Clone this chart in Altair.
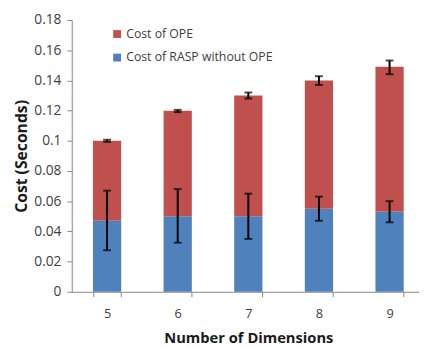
import altair as alt
import pandas as pd

dims = ["5", "6", "7", "8", "9"]
rasp = [0.047, 0.050, 0.050, 0.055, 0.053]
total = [0.100, 0.120, 0.130, 0.140, 0.149]
rasp_lo = [0.0275, 0.0325, 0.035, 0.047, 0.046]
rasp_hi = [0.067, 0.068, 0.065, 0.063, 0.060]
total_lo = [0.0993, 0.1190, 0.1280, 0.1370, 0.1441]
total_hi = [0.1007, 0.1205, 0.1320, 0.1428, 0.1532]
y_ticks = [0, 0.02, 0.04, 0.06, 0.08, 0.1, 0.12, 0.14, 0.16, 0.18]
series = ["Cost of OPE", "Cost of RASP without OPE"]
colors = ["#C0504D", "#4F81BD"]

rows = []
for d, r, t in zip(dims, rasp, total):
    rows.append({"dim": d, "series": series[1], "y0": 0.0, "y1": r})
    rows.append({"dim": d, "series": series[0], "y0": r, "y1": t})
bars_df = pd.DataFrame(rows)

err_rows = []
for d, lo, hi in zip(dims, rasp_lo, rasp_hi):
    err_rows.append({"dim": d, "lo": lo, "hi": hi})
for d, lo, hi in zip(dims, total_lo, total_hi):
    err_rows.append({"dim": d, "lo": lo, "hi": hi})
err_df = pd.DataFrame(err_rows)
cap_df = pd.concat([
    err_df[["dim", "lo"]].rename(columns={"lo": "v"}),
    err_df[["dim", "hi"]].rename(columns={"hi": "v"}),
])

FONT = "Open Sans"

x_axis = alt.Axis(
    title="Number of Dimensions",
    labelAngle=0,
    tickBand="extent",
    tickSize=5,
    labelPadding=11,
    titlePadding=11,
)
x_scale = alt.Scale(range=[0, 360], paddingInner=0.6, paddingOuter=0.3)
y_scale = alt.Scale(domain=[0, 0.18], nice=False, zero=True)
y_axis = alt.Axis(
    title="Cost (Seconds)",
    values=y_ticks,
    format="~g",
    tickSize=5,
    labelPadding=6,
    titlePadding=4,
    labelOverlap=False,
)

bars = alt.Chart(bars_df).mark_bar().encode(
    x=alt.X("dim:N", sort=dims, scale=x_scale, axis=x_axis),
    y=alt.Y("y0:Q", scale=y_scale, axis=y_axis),
    y2="y1:Q",
    color=alt.Color(
        "series:N",
        scale=alt.Scale(domain=series, range=colors),
        legend=alt.Legend(
            title=None,
            orient="none",
            legendX=40,
            legendY=8,
            symbolType="square",
            symbolSize=64,
            symbolStrokeWidth=0,
            rowPadding=11,
            labelFontSize=12.5,
            labelFont=FONT,
            labelColor="#404040",
            padding=0,
            labelOffset=3,
        ),
    ),
)

rules = alt.Chart(err_df).mark_rule(color="black", strokeWidth=2).encode(
    x=alt.X("dim:N", sort=dims, scale=x_scale, axis=x_axis),
    y=alt.Y("lo:Q", scale=y_scale, axis=y_axis),
    y2="hi:Q",
)

caps = alt.Chart(cap_df).mark_tick(color="black", thickness=2, size=8).encode(
    x=alt.X("dim:N", sort=dims, scale=x_scale, axis=x_axis),
    y=alt.Y("v:Q", scale=y_scale, axis=y_axis),
)

chart = (
    alt.layer(bars, rules, caps)
    .properties(
        width=354,
        height=277,
        autosize=alt.AutoSizeParams(type="none"),
        padding={"left": 65, "top": 9, "right": 0, "bottom": 52},
    )
    .configure_view(stroke=None)
    .configure_axis(
        grid=False,
        domainColor="#868686",
        tickColor="#868686",
        labelFont=FONT,
        labelFontSize=13,
        labelColor="#404040",
        titleFont=FONT,
        titleFontSize=15,
        titleFontWeight="bold",
        titleColor="#1a1a1a",
    )
    .configure_axisY(titleFontSize=16, labelFontSize=14)
)

chart.save("out.html", embed_options={"renderer": "svg", "actions": False})
